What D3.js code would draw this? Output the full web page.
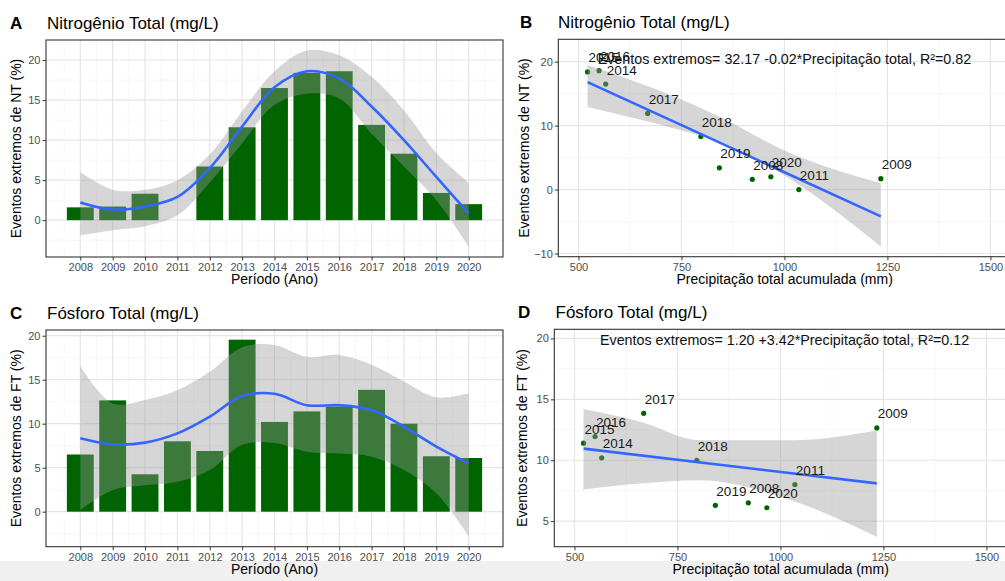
<!DOCTYPE html>
<html>
<meta charset="utf-8">
<style>
body { margin: 0; background: #fff; }
text { font-family: "Liberation Sans", Arial, sans-serif; }
</style>
<body>
<svg id="fig" width="1005" height="581"></svg>
<script src="https://d3js.org/d3.v7.min.js"></script>
<script>

// ---- data ----
var years = [2008, 2009, 2010, 2011, 2012, 2013, 2014, 2015, 2016, 2017, 2018, 2019, 2020];

// % of extreme events per year
var ntPct = [1.6, 1.7, 3.3, 0, 6.7, 11.6, 16.5, 18.4, 18.6, 11.9, 8.3, 3.4, 2.0];
var ftPct = [6.5, 12.65, 4.25, 8.0, 6.9, 19.55, 10.2, 11.4, 11.95, 13.85, 10.0, 6.3, 6.1];

// loess smooth and its band (per year)
var ntFit = [2.2, 1.3, 1.7, 2.9, 6.5, 11.7, 16.6, 18.6, 17.7, 14.2, 10.0, 5.4, 0.85];
var ntHi  = [6.0, 3.8, 3.8, 5.0, 8.2, 13.6, 18.6, 21.2, 20.6, 17.9, 13.7, 8.4, 4.7];
var ntLo  = [-1.9, -1.25, -0.75, 0.6, 4.7, 9.6, 14.4, 15.8, 15.2, 10.8, 6.7, 2.5, -3.3];
var ftFit = [8.35, 7.65, 7.85, 8.9, 10.8, 13.15, 13.4, 12.1, 12.1, 11.55, 9.65, 7.4, 5.5];
var ftHi  = [16.55, 12.3, 12.7, 13.8, 15.9, 18.7, 18.95, 17.6, 17.8, 16.7, 14.8, 13.0, 13.45];
var ftLo  = [0.2, 2.45, 3.0, 3.4, 4.7, 7.6, 7.8, 6.8, 6.6, 6.25, 4.74, 2.1, -2.8];

// accumulated precipitation (mm) for the years in the scatter plots
var precipYears = [2015, 2016, 2014, 2017, 2018, 2019, 2008, 2020, 2011, 2009];
var precipMm    = [522, 550, 566, 668, 797, 842, 922, 967, 1035, 1234];

// linear fits
var fitX = [522, 1234];
var ntLineY = [16.8, -4.2];
var ftLineY = [10.95, 8.1];
var ntBandX  = [522, 746, 843, 997, 1234];
var ntBandLo = [12.9, 9.3, 7.5, 2.3, -8.9];
var ntBandHi = [19.5, 14.2, 11.4, 6.2, 1.0];
var ftBandX  = [522, 666, 802, 1027, 1234];
var ftBandLo = [7.6, 8.1, 8.35, 6.7, 3.7];
var ftBandHi = [14.2, 13.1, 11.65, 11.65, 12.45];

var yearTicks = years;
var mmTicks = [500, 750, 1000, 1250, 1500];

var svg = d3.select("#fig");

// light strip at the bottom of the screenshot
svg.append("rect").attr("x", 0).attr("y", 561).attr("width", 1005).attr("height", 20).attr("fill", "#f0f0f0");

var green = "#006400", blue = "#3366ff";
var smooth = d3.curveCatmullRom.alpha(0.5);

function frame(x, y, xTicks, xMinor, yTicks, yMinor, opts) {
  var g = svg.append("g");
  var x0 = x.range()[0], x1 = x.range()[1], y0 = y.range()[0], y1 = y.range()[1];
  g.append("clipPath").attr("id", opts.id).append("rect")
    .attr("x", x0).attr("y", y1).attr("width", x1 - x0).attr("height", y0 - y1);

  // grid
  g.selectAll(".xm").data(xMinor).enter().append("line")
    .attr("x1", function(d) { return x(d); }).attr("x2", function(d) { return x(d); })
    .attr("y1", y1).attr("y2", y0).attr("stroke", "#f3f3f3").attr("stroke-width", 0.7);
  g.selectAll(".ym").data(yMinor).enter().append("line")
    .attr("y1", function(d) { return y(d); }).attr("y2", function(d) { return y(d); })
    .attr("x1", x0).attr("x2", x1).attr("stroke", "#f3f3f3").attr("stroke-width", 0.7);
  g.selectAll(".xg").data(xTicks).enter().append("line")
    .attr("x1", function(d) { return x(d); }).attr("x2", function(d) { return x(d); })
    .attr("y1", y1).attr("y2", y0).attr("stroke", "#e6e6e6").attr("stroke-width", 1.2);
  g.selectAll(".yg").data(yTicks).enter().append("line")
    .attr("y1", function(d) { return y(d); }).attr("y2", function(d) { return y(d); })
    .attr("x1", x0).attr("x2", x1).attr("stroke", "#e6e6e6").attr("stroke-width", 1.2);

  var plot = g.append("g").attr("clip-path", "url(#" + opts.id + ")");

  // axes
  var ax = g.append("g").attr("transform", "translate(0," + y0 + ")")
    .call(d3.axisBottom(x).tickValues(xTicks).tickSize(3.5).tickPadding(3).tickFormat(d3.format("d")));
  var ay = g.append("g").attr("transform", "translate(" + x0 + ",0)")
    .call(d3.axisLeft(y).tickValues(yTicks).tickSize(3.5).tickPadding(2).tickFormat(d3.format("d")));
  [ax, ay].forEach(function(a) {
    a.select(".domain").remove();
    a.selectAll(".tick line").attr("stroke", "#333");
    a.selectAll("text").attr("fill", "#4d4d4d").style("font-size", "11px")
      .style("font-family", "Liberation Sans, Arial, sans-serif");
  });

  // titles
  g.append("text").attr("x", opts.tagX).attr("y", y1 - 11).text(opts.tag)
    .style("font-size", "17px").style("font-weight", "bold");
  g.append("text").attr("x", opts.titleX).attr("y", y1 - 11).text(opts.title)
    .style("font-size", "17px");
  g.append("text").attr("x", (x0 + x1) / 2).attr("y", y0 + 27).attr("text-anchor", "middle")
    .text(opts.xTitle).style("font-size", "14px");
  g.append("text").attr("transform", "translate(" + opts.yTitleX + "," + ((y0 + y1) / 2) + ") rotate(-90)")
    .attr("text-anchor", "middle").text(opts.yTitle).style("font-size", "14px");

  return {g: g, plot: plot, border: function() {
    g.append("rect").attr("x", x0).attr("y", y1).attr("width", x1 - x0).attr("height", y0 - y1)
      .attr("fill", "none").attr("stroke", "#333").attr("stroke-width", 1.1);
  }};
}

function barPanel(vals, fit, lo, hi, box, opts) {
  var x = d3.scaleLinear().domain([2006.94, 2021.06]).range([box.left, box.right]);
  var y = d3.scaleLinear().domain(box.ydom).range([box.bottom, box.top]);
  var xMinor = d3.range(2007.5, 2021, 1);
  var yMinor = d3.range(-2.5, 22.5, 5);
  var f = frame(x, y, yearTicks, xMinor, [0, 5, 10, 15, 20], yMinor, opts);
  var bw = 0.83;
  var rows = years.map(function(yr, i) { return {yr: yr, v: vals[i], fit: fit[i], lo: lo[i], hi: hi[i]}; });

  f.plot.selectAll(".bar").data(rows).enter().append("rect")
    .attr("x", function(d) { return x(d.yr - bw / 2); })
    .attr("width", function(d) { return x(d.yr + bw / 2) - x(d.yr - bw / 2); })
    .attr("y", function(d) { return y(d.v); })
    .attr("height", function(d) { return y(0) - y(d.v); })
    .attr("fill", green);

  f.plot.append("path").datum(rows)
    .attr("d", d3.area().curve(smooth)
      .x(function(d) { return x(d.yr); }).y0(function(d) { return y(d.lo); }).y1(function(d) { return y(d.hi); }))
    .attr("fill", "#999999").attr("fill-opacity", 0.4);
  f.plot.append("path").datum(rows)
    .attr("d", d3.line().curve(smooth)
      .x(function(d) { return x(d.yr); }).y(function(d) { return y(d.fit); }))
    .attr("fill", "none").attr("stroke", blue).attr("stroke-width", 2.6);
  f.border();
}

function scatterPanel(vals, lineY, bandX, bandLo, bandHi, box, opts) {
  var x = d3.scaleLinear().domain([451, 1550]).range([box.left, box.right]);
  var y = d3.scaleLinear().domain(box.ydom).range([box.bottom, box.top]);
  var f = frame(x, y, mmTicks, [625, 875, 1125, 1375], box.yTicks, box.yMinor, opts);

  var pts = precipYears.map(function(yr, i) {
    return {yr: yr, mm: precipMm[i], v: vals[years.indexOf(yr)]};
  });
  var band = bandX.map(function(mm, i) { return {mm: mm, lo: bandLo[i], hi: bandHi[i]}; });

  f.plot.selectAll(".pt").data(pts).enter().append("circle")
    .attr("cx", function(d) { return x(d.mm); }).attr("cy", function(d) { return y(d.v); })
    .attr("r", 2.6).attr("fill", green);
  f.plot.append("path").datum(band)
    .attr("d", d3.area().curve(d3.curveMonotoneX)
      .x(function(d) { return x(d.mm); }).y0(function(d) { return y(d.lo); }).y1(function(d) { return y(d.hi); }))
    .attr("fill", "#999999").attr("fill-opacity", 0.4);
  f.plot.append("line")
    .attr("x1", x(fitX[0])).attr("x2", x(fitX[1])).attr("y1", y(lineY[0])).attr("y2", y(lineY[1]))
    .attr("stroke", blue).attr("stroke-width", 2.6);
  f.plot.selectAll(".lab").data(pts).enter().append("text")
    .attr("x", function(d) { return x(d.mm) + 1; }).attr("y", function(d) { return y(d.v) - 9.5; })
    .text(function(d) { return d.yr; }).attr("fill", "#1a1a1a").style("font-size", "13.5px");
  f.plot.append("text").attr("x", x(opts.eqX)).attr("y", y(opts.eqY)).attr("text-anchor", "middle")
    .text(opts.eq).attr("fill", "#111").style("font-size", "14.3px");
  f.border();
}

barPanel(ntPct, ntFit, ntLo, ntHi,
  {left: 46, right: 503, top: 40, bottom: 257, ydom: [-4.6, 22.5]},
  {id: "cA", tag: "A", tagX: 10, titleX: 47, title: "Nitrogênio Total (mg/L)",
   xTitle: "Período (Ano)", yTitle: "Eventos extremos de NT (%)", yTitleX: 21});

barPanel(ftPct, ftFit, ftLo, ftHi,
  {left: 46, right: 503, top: 330, bottom: 546.7, ydom: [-3.98, 20.65]},
  {id: "cC", tag: "C", tagX: 10, titleX: 47, title: "Fósforo Total (mg/L)",
   xTitle: "Período (Ano)", yTitle: "Eventos extremos de FT (%)", yTitleX: 21});

scatterPanel(ntPct, ntLineY, ntBandX, ntBandLo, ntBandHi,
  {left: 558.3, right: 1011, top: 39.3, bottom: 256.7, ydom: [-10.5, 23.5],
   yTicks: [-10, 0, 10, 20], yMinor: [-5, 5, 15]},
  {id: "cB", tag: "B", tagX: 520, titleX: 558, title: "Nitrogênio Total (mg/L)",
   xTitle: "Precipitação total acumulada (mm)", yTitle: "Eventos extremos de NT (%)", yTitleX: 529,
   eqX: 1000, eqY: 19.7, eq: "Eventos extremos= 32.17 -0.02*Precipitação total, R²=0.82"});

scatterPanel(ftPct, ftLineY, ftBandX, ftBandLo, ftBandHi,
  {left: 554.3, right: 1007, top: 329.3, bottom: 546.7, ydom: [2.9, 20.75],
   yTicks: [5, 10, 15, 20], yMinor: [7.5, 12.5, 17.5]},
  {id: "cD", tag: "D", tagX: 518, titleX: 555.5, title: "Fósforo Total (mg/L)",
   xTitle: "Precipitação total acumulada (mm)", yTitle: "Eventos extremos de FT (%)", yTitleX: 527,
   eqX: 1010, eqY: 19.43, eq: "Eventos extremos= 1.20 +3.42*Precipitação total, R²=0.12"});

</script>
</body>
</html>
